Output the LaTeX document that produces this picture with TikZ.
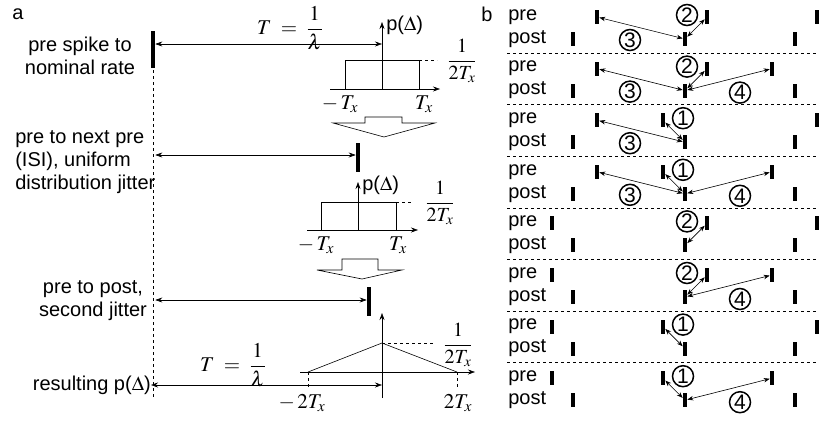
\documentclass[tikz,border=0pt]{standalone}
\usepackage{mathptmx}
\usepackage{fontspec}
\setmainfont{Liberation Sans}
\usetikzlibrary{arrows.meta}

\tikzset{
  lbl/.style={inner sep=0pt},
  mth/.style={inner sep=0pt, font=\fontsize{21}{23}\selectfont},
  bar/.style={fill=black, inner sep=0pt, minimum width=4pt},
  spike/.style={bar, minimum height=14pt},
  num/.style={draw, circle, line width=1.5pt, inner sep=0pt, minimum size=21pt,
    font=\fontsize{21}{21}\selectfont},
  pair/.style={<->, >={Stealth[length=6pt, width=4.5pt]}},
  sep/.style={dashed, line width=0.5pt},
  hollow/.style={draw, fill=white, line width=0.6pt},
}

\begin{document}
\begin{tikzpicture}[x=1pt, y=-1pt, >={Stealth[length=7pt, width=5pt]},
    font=\fontsize{20}{23}\selectfont, line width=0.6pt]
\useasboundingbox (0,0) rectangle (819,421);

    % Panel a: teks keterangan
    \node[lbl] (a) at (18,14) {a};
    \node[lbl, align=center] (t1) at (80,56) {pre spike to\\nominal rate};
    \node[lbl, anchor=west, align=left] (t2) at (15,162) {pre to next pre\\(ISI), uniform\\distribution jitter};
    \node[lbl, align=center] (t3) at (93,301) {pre to post,\\second jitter};
    \node[lbl, anchor=east] (t4) at (151,385) {resulting p($\Delta$)};

    % Spike tebal dan garis putus-putus
    \node[bar, minimum height=37pt] (s1) at (153,49) {};
    \node[bar, minimum height=29pt] (s2) at (358,157) {};
    \node[bar, minimum height=29pt] (s3) at (369,301) {};
    \coordinate (d0) at (153,70);
    \coordinate (d1) at (153,398);
    \draw[dashed] (d0) -- (d1);

    % Distribusi seragam pertama
    \coordinate (o1) at (382,89);
    \coordinate (y1) at (382,22);
    \draw[->] (330,89) -- (440,89);
    \draw[->] (o1) -- (y1) node[lbl, anchor=west, xshift=4pt, yshift=-3pt] (p1) {p($\Delta$)};
    \draw (345,60) rectangle (419,89);
    \draw[dashed] (419,60) -- (437,60);
    \node[lbl] (f1) at (462,61) {$\displaystyle\frac{1}{2T_x}$};
    \draw[hollow] (365,117) -- (402,117) -- (402,123) -- (435,123) -- (384,137)
                  -- (333,123) -- (365,123) -- cycle;
    \node[mth] (m1) at (340,104) {$-\,T_x$};
    \node[mth] (n1) at (424,104) {$T_x$};
    \draw[<->] (s1.east |- 0,44) -- (y1 |- 0,44);
    \node[mth] (T1) at (290,28) {$T\;=\;\displaystyle\frac{1}{\lambda}$};

    % Distribusi seragam kedua
    \coordinate (o2) at (358,230);
    \coordinate (y2) at (358,182);
    \draw[<->] (s1.east |- 0,155) -- (s2.west |- 0,155);
    \draw[->] (307,230) -- (418,230);
    \draw[->] (o2) -- (y2) node[lbl, anchor=west, xshift=4pt, yshift=-3pt] (p2) {p($\Delta$)};
    \draw (321,202) rectangle (396,230);
    \draw[dashed] (396,202) -- (413,202);
    \node[lbl] (f2) at (440,203) {$\displaystyle\frac{1}{2T_x}$};
    \draw[hollow] (342,259) -- (378,259) -- (378,270) -- (402,270) -- (362,279)
                  -- (317,270) -- (342,270) -- cycle;
    \node[mth] (m2) at (316,245) {$-\,T_x$};
    \node[mth] (n2) at (398,245) {$T_x$};

    % Distribusi segitiga hasil
    \draw[<->] (s1.east |- 0,300) -- (s3.west |- 0,300);
    \coordinate (o3) at (382,398);
    \coordinate (y3) at (382,313);
    \coordinate (k3) at (382,343);
    \coordinate (l3) at (308,372);
    \coordinate (r3) at (457,372);
    \draw[->] (o3) -- (y3);
    \draw[->] (300,372) -- (475,372);
    \draw (l3) -- (k3) -- (r3);
    \draw[dashed] (k3) -- (435,343);
    \draw[dashed] (l3) -- (308,390);
    \draw[dashed] (r3) -- (457,390);
    \node[lbl] (f3) at (458,345) {$\displaystyle\frac{1}{2T_x}$};
    \node[mth] (m3) at (302,403) {$-\,2T_x$};
    \node[mth] (n3) at (458,403) {$2T_x$};
    \draw[<->] (t4.east |- 0,385) -- (o3 |- 0,385);
    \node[mth] (T3) at (233,365) {$T\;=\;\displaystyle\frac{1}{\lambda}$};

    % Panel b: delapan baris pre/post
    \node[lbl] (b) at (487,14) {b};
    \foreach \r/\lx/\jx/\n/\cx/\rx in {1/597/707/2/687/817, 2/597/707/2/687/772,
        3/597/663/1/683/817, 4/597/663/1/683/772, 5/552/707/2/687/817,
        6/552/707/2/687/772, 7/552/663/1/683/817, 8/552/663/1/683/772}{
      \pgfmathsetmacro\yp{17+51.6*(\r-1)}
      \pgfmathsetmacro\yq{\yp+22}
      \node[lbl, anchor=west] (pre\r) at (508,\yp) {pre};
      \node[lbl, anchor=west] (post\r) at (508,\yq) {post};
      \node[spike] (pa\r) at (\lx,\yp) {};
      \node[spike] (pb\r) at (\jx,\yp) {};
      \node[spike] (pc\r) at (\rx,\yp) {};
      \node[spike] (qa\r) at (573,\yq) {};
      \node[spike] (qb\r) at (685,\yq) {};
      \node[spike] (qc\r) at (795,\yq) {};
      \draw[pair] (pb\r) -- (qb\r);
      \node[num] (j\r) at (\cx,\yp-2) {\n};
      \ifnum\r<5
        \draw[pair] (qb\r) -- (pa\r);
        \node[num] (i\r) at (630,\yq+1) {3};
      \fi
      \ifodd\r
      \else
        \draw[pair] (qb\r) -- (pc\r);
        \node[num] (k\r) at (740,\yq+2) {4};
      \fi
      \ifnum\r<8
        \draw[sep] (507,\yp+36) -- (819,\yp+36);
      \fi
    }

\end{tikzpicture}
\end{document}
